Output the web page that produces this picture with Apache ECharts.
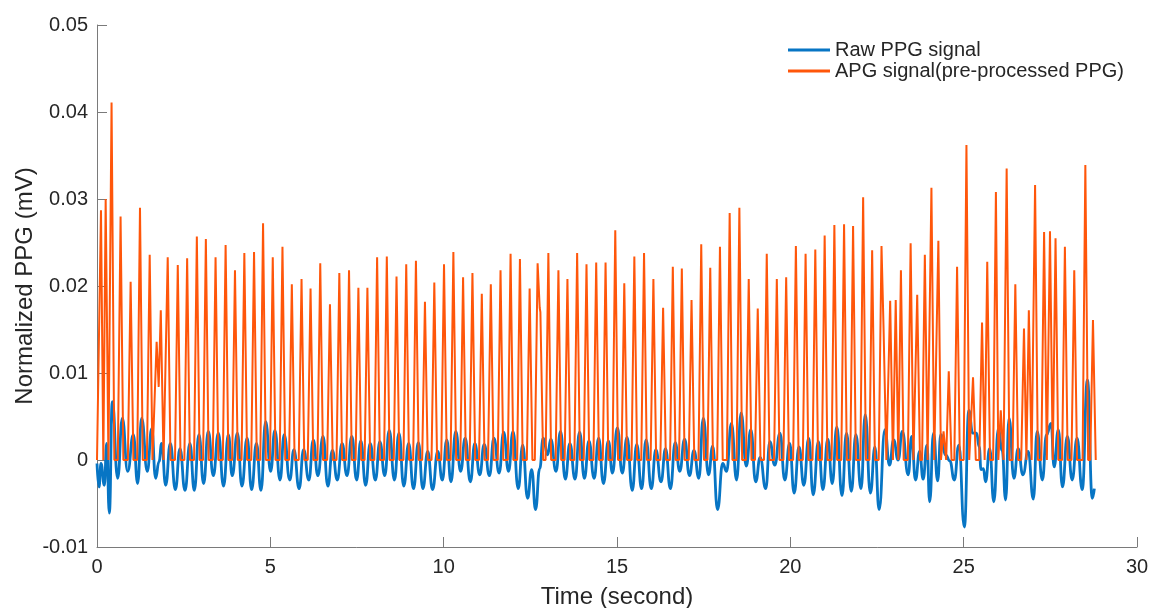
<!DOCTYPE html>
<html>
<head>
<meta charset="utf-8">
<script src="https://cdn.jsdelivr.net/npm/echarts@6/dist/echarts.min.js"></script>
<style>
  html, body { margin: 0; padding: 0; background: #fff; }
  #chart { width: 1159px; height: 608px; }
</style>
</head>
<body>
<div id="chart"></div>
<script>
// x axis ticks (seconds) and y axis ticks (mV)
var xTicks = [0, 5, 10, 15, 20, 25, 30]
var yTicks = [-0.01, 0, 0.01, 0.02, 0.03, 0.04, 0.05]

// APG signal: spike tops (and the few in-between kinks)
var apgPeakT = [0.115, 0.25, 0.42, 0.68, 0.97, 1.24, 1.52, 1.72, 1.78, 1.84,
  2.04, 2.33, 2.60, 2.88, 3.14, 3.42, 3.71, 3.98, 4.25, 4.53,
  4.79, 5.07, 5.35, 5.62, 5.90, 6.16, 6.44, 6.72, 6.99, 7.27,
  7.54, 7.80, 8.08, 8.36, 8.64, 8.92, 9.20, 9.46, 9.73, 10.01,
  10.28, 10.56, 10.83, 11.10, 11.36, 11.64, 11.93, 12.20, 12.48, 12.71,
  12.77, 12.79, 13.02, 13.31, 13.57, 13.85, 14.12, 14.40, 14.67, 14.95,
  15.21, 15.50, 15.78, 16.05, 16.33, 16.61, 16.87, 17.15, 17.43, 17.69,
  17.97, 18.25, 18.53, 18.80, 19.06, 19.32, 19.61, 19.88, 20.16, 20.44,
  20.72, 20.99, 21.27, 21.55, 21.81, 22.10, 22.36, 22.63, 22.69, 22.88,
  23.04, 23.19, 23.47, 23.66, 23.88, 24.07, 24.27, 24.42, 24.57, 24.81,
  25.08, 25.27, 25.53, 25.68, 25.93, 26.07, 26.24, 26.49, 26.74, 26.88,
  27.06, 27.32, 27.49, 27.65, 27.92, 28.19, 28.51, 28.73]
var apgPeakV = [0.0287, 0.0300, 0.0411, 0.0280, 0.0205, 0.0290, 0.0236, 0.0136, 0.0084, 0.0172,
  0.0233, 0.0224, 0.0232, 0.0257, 0.0254, 0.0233, 0.0247, 0.0218, 0.0238, 0.0239,
  0.0272, 0.0233, 0.0245, 0.0202, 0.0208, 0.0197, 0.0226, 0.0179, 0.0215, 0.0218,
  0.0198, 0.0198, 0.0233, 0.0234, 0.0211, 0.0225, 0.0229, 0.0182, 0.0204, 0.0225,
  0.0239, 0.0210, 0.0215, 0.0191, 0.0202, 0.0218, 0.0237, 0.0231, 0.0197, 0.0226,
  0.0175, 0.0170, 0.0238, 0.0218, 0.0208, 0.0238, 0.0225, 0.0227, 0.0227, 0.0264,
  0.0203, 0.0234, 0.0238, 0.0208, 0.0175, 0.0222, 0.0220, 0.0184, 0.0248, 0.0221,
  0.0245, 0.0284, 0.0290, 0.0208, 0.0174, 0.0237, 0.0208, 0.0210, 0.0246, 0.0237,
  0.0242, 0.0258, 0.0270, 0.0271, 0.0269, 0.0302, 0.0241, 0.0246, 0.0150, 0.0183,
  0.0184, 0.0218, 0.0249, 0.0190, 0.0236, 0.0313, 0.0252, 0.0033, 0.0102, 0.0222,
  0.0362, 0.0095, 0.0158, 0.0228, 0.0308, 0.0057, 0.0335, 0.0202, 0.0151, 0.0172,
  0.0316, 0.0262, 0.0263, 0.0255, 0.0245, 0.0218, 0.0339, 0.0161]
var apgStart = 0
var apgEnd = 28.79

// Raw PPG signal: turning points
var ppgT = [0.00, 0.058, 0.115, 0.212, 0.279, 0.356, 0.442, 0.596, 0.731, 0.885,
  1.048, 1.173, 1.288, 1.452, 1.577, 1.692, 1.788, 1.865, 1.981, 2.115,
  2.26, 2.394, 2.538, 2.68, 2.807, 2.94, 3.076, 3.21, 3.355, 3.50,
  3.65, 3.79, 3.90, 4.05, 4.18, 4.33, 4.46, 4.60, 4.73, 4.865,
  5.01, 5.13, 5.28, 5.40, 5.56, 5.68, 5.83, 5.96, 6.11, 6.24,
  6.37, 6.52, 6.66, 6.79, 6.93, 7.07, 7.21, 7.35, 7.49, 7.61,
  7.75, 7.88, 8.03, 8.16, 8.30, 8.43, 8.58, 8.71, 8.85, 8.99,
  9.13, 9.27, 9.40, 9.54, 9.68, 9.83, 9.96, 10.09, 10.21, 10.35,
  10.49, 10.62, 10.77, 10.90, 11.04, 11.17, 11.32, 11.45, 11.60, 11.73,
  11.87, 12.00, 12.15, 12.28, 12.42, 12.54, 12.65, 12.77, 12.87, 13.00,
  13.09, 13.24, 13.37, 13.51, 13.64, 13.79, 13.92, 14.06, 14.19, 14.34,
  14.47, 14.61, 14.75, 14.87, 15.01, 15.15, 15.29, 15.44, 15.57, 15.71,
  15.84, 15.99, 16.12, 16.27, 16.40, 16.54, 16.68, 16.81, 16.95, 17.09,
  17.22, 17.36, 17.49, 17.64, 17.76, 17.90, 18.05, 18.16, 18.30, 18.45,
  18.58, 18.73, 18.86, 19.00, 19.13, 19.29, 19.41, 19.55, 19.70, 19.84,
  19.98, 20.11, 20.25, 20.39, 20.53, 20.66, 20.81, 20.94, 21.08, 21.21,
  21.34, 21.49, 21.62, 21.76, 21.89, 22.04, 22.16, 22.31, 22.44, 22.56,
  22.73, 22.86, 22.98, 23.11, 23.23, 23.40, 23.50, 23.61, 23.73, 23.83,
  23.94, 24.02, 24.13, 24.25, 24.34, 24.48, 24.60, 24.73, 24.86, 25.02,
  25.15, 25.26, 25.37, 25.45, 25.50, 25.57, 25.63, 25.75, 25.87, 26.00,
  26.11, 26.21, 26.31, 26.45, 26.57, 26.71, 26.86, 27.01, 27.12, 27.27,
  27.39, 27.52, 27.61, 27.73, 27.85, 27.99, 28.13, 28.27, 28.42, 28.57,
  28.71, 28.77]
var ppgV = [-0.0004, -0.0031, -0.0004, -0.0029, 0.0019, -0.0061, 0.0067, -0.0021, 0.0048, -0.0013,
  0.0029, -0.0027, 0.0048, -0.0013, 0.0036, -0.0021, -0.0002, 0.0019, -0.0029, 0.0019,
  -0.0034, 0.0013, -0.0035, 0.0019, -0.0035, 0.0029, -0.0027, 0.0033, -0.0018, 0.0031,
  -0.0030, 0.0029, -0.0018, 0.0031, -0.0030, 0.0025, -0.0034, 0.0019, -0.0035, 0.0044,
  -0.0013, 0.0034, -0.0023, 0.0029, -0.0023, 0.0012, -0.0033, 0.0012, -0.0023, 0.0023,
  -0.0018, 0.0027, -0.0030, 0.0011, -0.0023, 0.0019, -0.0018, 0.0027, -0.0023, 0.0022,
  -0.0029, 0.0019, -0.0023, 0.0021, -0.0018, 0.0034, -0.0023, 0.0031, -0.0030, 0.0019,
  -0.0033, 0.0020, -0.0033, 0.0010, -0.0034, 0.0010, -0.0023, 0.0023, -0.0025, 0.0033,
  -0.0013, 0.0025, -0.0025, 0.0019, -0.0017, 0.0018, -0.0018, 0.0025, -0.0015, 0.0032,
  -0.0013, 0.0033, -0.0033, 0.0017, -0.0044, -0.0011, -0.0057, -0.0010, 0.0025, 0.0006,
  0.0024, -0.0013, 0.0033, -0.0022, 0.0019, -0.0022, 0.0032, -0.0021, 0.0022, -0.0021,
  0.0025, -0.0027, 0.0022, -0.0015, 0.0037, -0.0015, 0.0026, -0.0035, 0.0018, -0.0033,
  0.0023, -0.0033, 0.0012, -0.0025, 0.0013, -0.0033, 0.0020, -0.0013, 0.0024, -0.0018,
  0.0011, -0.0021, 0.0048, -0.0017, 0.0016, -0.0057, -0.0004, -0.0013, 0.0042, -0.0023,
  0.0054, -0.0007, 0.0035, -0.0025, 0.0003, -0.0033, 0.0021, -0.0006, 0.0031, -0.0023,
  0.0019, -0.0038, 0.0015, -0.0029, 0.0025, -0.0040, 0.0021, -0.0034, 0.0024, -0.0027,
  0.0038, -0.0041, 0.0031, -0.0036, 0.0029, -0.0033, 0.0052, -0.0038, 0.0015, -0.0057,
  0.0035, -0.0006, 0.0023, 0.0000, 0.0033, -0.0017, 0.0027, -0.0023, 0.0010, -0.0022,
  0.0017, -0.0048, 0.0031, -0.0024, 0.0029, 0.0006, -0.0001, -0.0023, 0.0017, -0.0077,
  0.0057, 0.0031, 0.0031, 0.0015, -0.0011, -0.0010, -0.0025, 0.0013, -0.0048, 0.0036,
  0.0011, -0.0046, 0.0048, -0.0021, 0.0013, -0.0017, 0.0010, -0.0045, 0.0033, -0.0023,
  0.0029, 0.0042, -0.0008, 0.0035, -0.0031, 0.0027, -0.0023, 0.0025, -0.0034, 0.0092,
  -0.0044, -0.0033]

// spikes sit on a flat zero baseline
var footHalf = 0.08   // half width of a spike foot, seconds
var joinGap = 0.1     // closer tops than this are one spike (kinks, double tops)

function buildApg() {
  var pts = [[apgStart, 0]]
  for (var i = 0; i < apgPeakT.length; i++) {
    var t = apgPeakT[i]
    var gapPrev = i > 0 ? t - apgPeakT[i - 1] : 99
    var gapNext = i < apgPeakT.length - 1 ? apgPeakT[i + 1] - t : 99
    if (gapPrev > joinGap) pts.push([t - Math.min(footHalf, gapPrev / 2), 0])
    pts.push([t, apgPeakV[i]])
    if (gapNext > joinGap) pts.push([t + Math.min(footHalf, gapNext / 2), 0])
  }
  pts.push([apgEnd, 0])
  return pts
}

function buildPpg() {
  return ppgT.map(function (t, i) { return [t, ppgV[i]] })
}

var blue = '#0775c4'
var orange = '#ff560a'
var axisGray = '#7a7a7a'
var textColor = '#262626'
var font = 'Liberation Sans, Arial, sans-serif'

var chart = echarts.init(document.getElementById('chart'), null, { renderer: 'canvas' })
chart.setOption({
  backgroundColor: '#ffffff',
  animation: false,
  grid: { left: 97, right: 22, top: 25, bottom: 61, containLabel: false, outerBoundsMode: 'none' },
  legend: {
    orient: 'vertical',
    left: 788,
    top: 40,
    padding: 0,
    icon: 'rect',
    itemWidth: 42,
    itemHeight: 3,
    itemGap: 1,
    textStyle: { fontSize: 20, color: textColor, fontFamily: font },
    data: ['Raw PPG signal', 'APG signal(pre-processed PPG)']
  },
  xAxis: {
    type: 'value',
    min: xTicks[0],
    max: xTicks[xTicks.length - 1],
    interval: xTicks[1] - xTicks[0],
    name: 'Time (second)',
    nameLocation: 'middle',
    nameGap: 38,
    nameMoveOverlap: false,
    nameTextStyle: { fontSize: 24, color: textColor, fontFamily: font },
    axisLine: { onZero: false, lineStyle: { color: axisGray, width: 1 } },
    axisTick: { inside: true, length: 10, lineStyle: { color: axisGray } },
    axisLabel: { margin: 10, fontSize: 20, color: textColor, fontFamily: font },
    splitLine: { show: false }
  },
  yAxis: {
    type: 'value',
    min: yTicks[0],
    max: yTicks[yTicks.length - 1],
    interval: 0.01,
    name: 'Normalized PPG (mV)',
    nameLocation: 'middle',
    nameGap: 60,
    nameMoveOverlap: false,
    nameTextStyle: { fontSize: 24, color: textColor, fontFamily: font },
    axisLine: { show: true, onZero: false, lineStyle: { color: axisGray, width: 1 } },
    axisTick: { show: true, inside: true, length: 10, lineStyle: { color: axisGray } },
    axisLabel: {
      margin: 9, fontSize: 20, color: textColor, fontFamily: font,
      formatter: function (v) { return String(+v.toFixed(2)) }
    },
    splitLine: { show: false }
  },
  series: [
    {
      name: 'Raw PPG signal',
      type: 'line',
      data: buildPpg(),
      symbol: 'none',
      smooth: 0.5,
      smoothMonotone: 'x',
      lineStyle: { color: blue, width: 2.8 },
      itemStyle: { color: blue },
      z: 2
    },
    {
      name: 'APG signal(pre-processed PPG)',
      type: 'line',
      data: buildApg(),
      symbol: 'none',
      lineStyle: { color: orange, width: 2 },
      itemStyle: { color: orange },
      z: 3
    }
  ]
})
</script>
</body>
</html>
